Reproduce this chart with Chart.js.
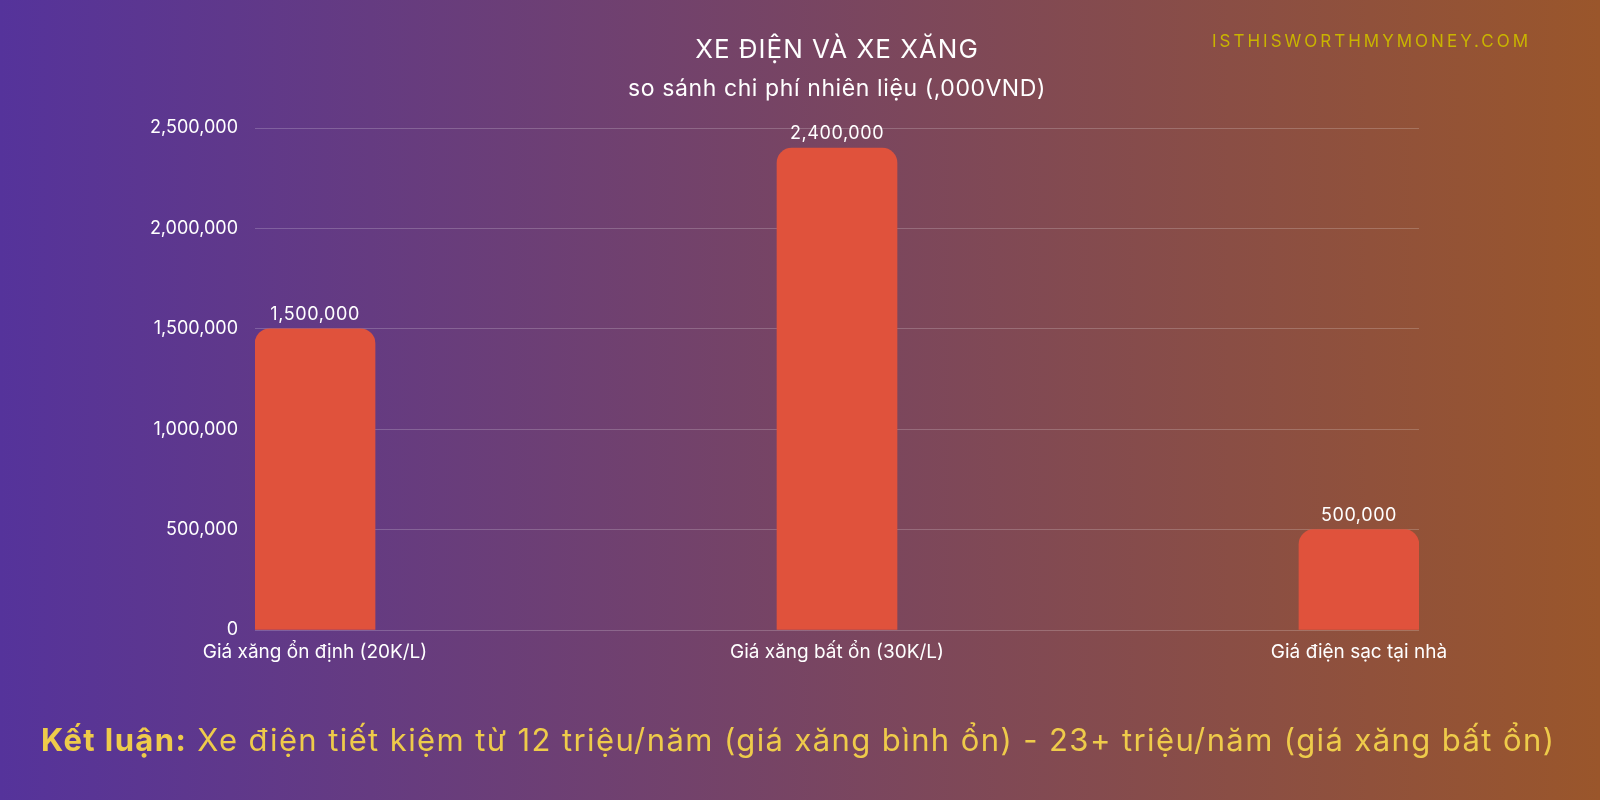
<!DOCTYPE html>
<html>
<head>
<meta charset="utf-8">
<script src="https://cdn.jsdelivr.net/npm/chart.js@4"></script>
<style>
  html, body { margin: 0; padding: 0; background: #55339b; }
  #wrap { width: 1600px; height: 800px; }
</style>
</head>
<body>
<div id="wrap"><canvas id="chart" width="1600" height="800"></canvas></div>
<script>
const categories = ['Giá xăng ổn định (20K/L)', 'Giá xăng bất ổn (30K/L)', 'Giá điện sạc tại nhà'];
const costs = [1500000, 2400000, 500000];
const yTicks = [0, 500000, 1000000, 1500000, 2000000, 2500000];

const title = 'XE ĐIỆN VÀ XE XĂNG';
const subtitle = 'so sánh chi phí nhiên liệu (,000VND)';
const watermark = 'ISTHISWORTHMYMONEY.COM';
const footBold = 'Kết luận:';
const footText = ' Xe điện tiết kiệm từ 12 triệu/năm (giá xăng bình ổn) - 23+ triệu/năm (giá xăng bất ổn)';

const FONT = 'Inter, "Noto Sans", sans-serif';
const fmt = v => Number(v).toLocaleString('en-US');

const background = {
  id: 'background',
  beforeDraw(chart) {
    const { ctx, width, height } = chart;
    const g = ctx.createLinearGradient(0, 0, width, 0);
    g.addColorStop(0, '#55339b');
    g.addColorStop(1, '#9a562b');
    ctx.save();
    ctx.fillStyle = g;
    ctx.fillRect(0, 0, width, height);
    ctx.restore();
  }
};

const valueLabels = {
  id: 'valueLabels',
  afterDatasetsDraw(chart) {
    const { ctx } = chart;
    const meta = chart.getDatasetMeta(0);
    ctx.save();
    ctx.font = '18px ' + FONT;
    ctx.letterSpacing = '0.6px';
    ctx.fillStyle = '#ffffff';
    ctx.textAlign = 'center';
    ctx.textBaseline = 'alphabetic';
    meta.data.forEach((bar, i) => {
      ctx.fillText(fmt(costs[i]), bar.x, bar.y - 9);
    });
    ctx.restore();
  }
};

const texts = {
  id: 'texts',
  afterDraw(chart) {
    const { ctx, chartArea } = chart;
    const cx = (chartArea.left + chartArea.right) / 2;
    ctx.save();
    ctx.fillStyle = '#ffffff';
    ctx.textAlign = 'center';
    ctx.textBaseline = 'alphabetic';
    ctx.font = '26px ' + FONT;
    ctx.letterSpacing = '1px';
    ctx.fillText(title, cx, 58);
    ctx.font = '23px ' + FONT;
    ctx.letterSpacing = '0.6px';
    ctx.fillText(subtitle, cx, 96);

    ctx.textAlign = 'left';
    ctx.fillStyle = '#c9b400';
    ctx.font = '17px ' + FONT;
    ctx.letterSpacing = '3px';
    ctx.fillText(watermark, 1212, 47);

    ctx.letterSpacing = '1.4px';
    ctx.fillStyle = '#eecb4a';
    ctx.font = 'bold 31px ' + FONT;
    ctx.fillText(footBold, 41, 751);
    const w = ctx.measureText(footBold).width;
    ctx.font = '31px ' + FONT;
    ctx.fillText(footText, 41 + w, 751);
    ctx.restore();
  }
};

new Chart(document.getElementById('chart'), {
  type: 'bar',
  data: {
    datasets: [{
      label: 'Chi phí',
      data: costs.map((v, i) => ({ x: i, y: v })),
      backgroundColor: '#e0523c',
      borderRadius: { topLeft: 15, topRight: 15, bottomLeft: 0, bottomRight: 0 },
      borderSkipped: false,
      barThickness: 120
    }]
  },
  options: {
    responsive: false,
    animation: false,
    layout: { padding: { left: 0, right: 181, top: 128, bottom: 130 } },
    plugins: { legend: { display: false }, tooltip: { enabled: false }, title: { display: false } },
    scales: {
      x: {
        type: 'linear',
        offset: false,
        min: -0.115,
        max: 2.115,
        afterBuildTicks: s => { s.ticks = categories.map((c, i) => ({ value: i })); },
        afterFit: s => { s.height = 40; },
        grid: { display: false, drawTicks: false },
        border: { display: false },
        ticks: {
          autoSkip: false,
          maxRotation: 0,
          padding: 11,
          color: '#ffffff',
          font: { family: FONT, size: 19 },
          callback: v => categories[v]
        }
      },
      y: {
        min: 0,
        max: 2500000,
        afterBuildTicks: s => { s.ticks = yTicks.map(v => ({ value: v })); },
        afterFit: s => { s.width = 255; },
        grid: { color: 'rgba(255,255,255,0.2)', drawTicks: false },
        border: { display: false },
        ticks: {
          padding: 17,
          color: '#ffffff',
          font: { family: FONT, size: 18 },
          callback: v => fmt(v)
        }
      }
    }
  },
  plugins: [background, valueLabels, texts]
});
</script>
</body>
</html>
